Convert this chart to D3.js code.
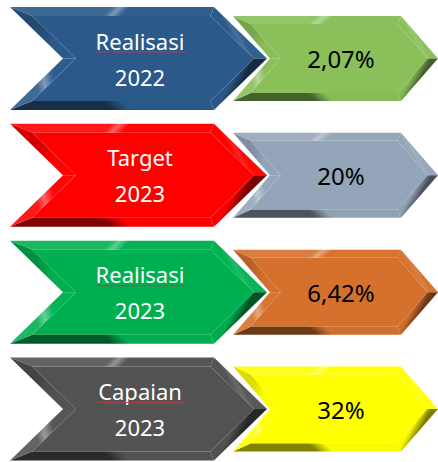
<!DOCTYPE html>
<html>
<head>
<meta charset="utf-8">
<script src="https://cdn.jsdelivr.net/npm/d3@7"></script>
<style>
  body { margin: 0; background: #fff; }
  svg { display: block; }
</style>
</head>
<body>
<svg id="chart" width="438" height="462"></svg>
<script>
// data
const labels = ["Realisasi", "Target", "Realisasi", "Capaian"];
const years = ["2022", "2023", "2023", "2023"];
const values = [2.07, 20, 6.42, 32];
const leftColors = ["#2b5a8a", "#ff0000", "#00b050", "#535353"];
const rightColors = ["#8abf5a", "#95a5b9", "#d5712c", "#ffff00"];
const underlined = [true, false, true, true]; // spell-check squiggle under these words

const svg = d3.select("#chart");
const defs = svg.append("defs");

const rows = d3.range(labels.length);
const y = d3.scalePoint().domain(rows).range([58.5, 409]);

const fmt = v => String(v).replace(".", ",") + "%";

// light comes from the upper left
const light = (() => { const l = Math.hypot(-0.45, -0.9); return [-0.45 / l, -0.9 / l]; })();

function chevron(x0, x1, depth, cy, hh) {
  return [
    [x0, cy - hh], [x1, cy - hh], [x1 + depth, cy],
    [x1, cy + hh], [x0, cy + hh], [x0 + depth, cy]
  ];
}

function edgeLines(pts, b) {
  const n = pts.length;
  return pts.map((p, i) => {
    const q = pts[(i + 1) % n];
    const dx = q[0] - p[0], dy = q[1] - p[1];
    const L = Math.hypot(dx, dy);
    const nx = -dy / L, ny = dx / L;
    return { p: [p[0] + nx * b, p[1] + ny * b], d: [dx, dy], n: [nx, ny] };
  });
}

function intersect(a, c) {
  const cross = a.d[0] * c.d[1] - a.d[1] * c.d[0];
  const wx = c.p[0] - a.p[0], wy = c.p[1] - a.p[1];
  const t = (wx * c.d[1] - wy * c.d[0]) / cross;
  return [a.p[0] + t * a.d[0], a.p[1] + t * a.d[1]];
}

function shade(base, s) {
  return s > 0 ? d3.interpolateRgb(base, "#ffffff")(s) : d3.interpolateRgb(base, "#000000")(-s);
}

let gid = 0;
function drawBevelShape(g, pts, base, b) {
  const n = pts.length;
  const lines = edgeLines(pts, b);
  const inner = pts.map((_, i) => intersect(lines[(i - 1 + n) % n], lines[i]));

  g.append("polygon")
    .attr("points", inner.map(p => p.join(",")).join(" "))
    .attr("fill", base);

  pts.forEach((p, i) => {
    const j = (i + 1) % n;
    const s = -(lines[i].n[0] * light[0] + lines[i].n[1] * light[1]);
    const om = [(p[0] + pts[j][0]) / 2, (p[1] + pts[j][1]) / 2];
    const im = [(inner[i][0] + inner[j][0]) / 2, (inner[i][1] + inner[j][1]) / 2];
    const id = "bev" + (gid++);
    const grad = defs.append("linearGradient")
      .attr("id", id)
      .attr("gradientUnits", "userSpaceOnUse")
      .attr("x1", om[0]).attr("y1", om[1])
      .attr("x2", im[0]).attr("y2", im[1]);
    // soft round bevel: lit sides peak in the middle, shaded sides darkest at the rim
    const stops = s > 0
      ? [[0, 0.25], [0.45, 1], [1, 0.05]].map(([o, f]) => [o, s * 0.42 * f])
      : [[0, 1], [0.4, 0.6], [1, 0.05]].map(([o, f]) => [o, s * 0.55 * f]);
    stops.forEach(([o, v]) => grad.append("stop").attr("offset", o).attr("stop-color", shade(base, v)));

    g.append("polygon")
      .attr("points", [p, pts[j], inner[j], inner[i]].map(q => q.join(",")).join(" "))
      .attr("fill", `url(#${id})`);
  });
}

const row = svg.selectAll("g.row")
  .data(rows)
  .join("g")
  .attr("class", "row");

row.each(function (i) {
  const g = d3.select(this);
  const cy = y(i);

  // value chevron (behind)
  const rg = g.append("g");
  drawBevelShape(rg, chevron(233, 401, 37, cy, 42.5), rightColors[i], 8);
  rg.append("text")
    .attr("x", 341)
    .attr("y", cy + 9.5)
    .attr("text-anchor", "middle")
    .attr("font-family", "'Noto Sans', sans-serif")
    .attr("font-size", 24)
    .attr("fill", "#000")
    .text(fmt(values[i]));

  // label chevron
  const lg = g.append("g");
  drawBevelShape(lg, chevron(10, 214, 53, cy, 51.5), leftColors[i], 9);
  const t1 = lg.append("text")
    .attr("x", 140)
    .attr("y", cy - 9)
    .attr("text-anchor", "middle")
    .attr("font-family", "'Noto Sans', sans-serif")
    .attr("font-size", 22)
    .attr("fill", "#fff")
    .text(labels[i]);
  lg.append("text")
    .attr("x", 140)
    .attr("y", cy + 27)
    .attr("text-anchor", "middle")
    .attr("font-family", "'Noto Sans', sans-serif")
    .attr("font-size", 22)
    .attr("fill", "#fff")
    .text(years[i]);

  if (underlined[i]) {
    const w = t1.node().getComputedTextLength();
    lg.append("line")
      .attr("x1", 140 - w / 2).attr("x2", 140 + w / 2 + 2)
      .attr("y1", cy - 6.5).attr("y2", cy - 6.5)
      .attr("stroke", "#b8404e")
      .attr("stroke-width", 1.2)
      .attr("opacity", 0.85);
  }
});
</script>
</body>
</html>
